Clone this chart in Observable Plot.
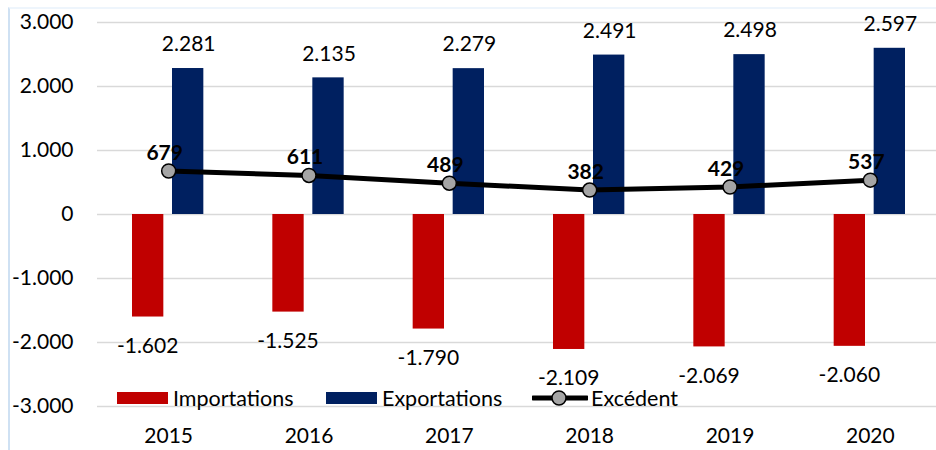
<!DOCTYPE html>
<html>
<head>
<meta charset="utf-8">
<script src="https://cdn.jsdelivr.net/npm/d3@7"></script>
<script src="https://cdn.jsdelivr.net/npm/@observablehq/plot@0.6"></script>
<style>
  html, body { margin: 0; padding: 0; background: #fff; }
  #wrap { position: relative; width: 936px; height: 450px; overflow: hidden; font-family: Lato, sans-serif; }
  #frame { position: absolute; left: 8px; top: 7px; right: 0; bottom: 0; border-left: 2px solid #cfe1f3; border-top: 2px solid #eef5fc; pointer-events: none; }
  #legend { position: absolute; left: 0; top: 385px; width: 936px; height: 26px; font-family: Lato, sans-serif; font-size: 21.5px; color: #000; }
  .item { position: absolute; top: 0; height: 26px; display: flex; align-items: center; }
  .item span { margin-left: 5px; line-height: 26px; }
</style>
</head>
<body>
<div id="wrap"><div id="frame"></div><div id="legend"></div></div>
<script>
const years = ["2015", "2016", "2017", "2018", "2019", "2020"];
const importations = [-1602, -1525, -1790, -2109, -2069, -2060];
const exportations = [2281, 2135, 2279, 2491, 2498, 2597];
const excedent = [679, 611, 489, 382, 429, 537];
const yTicks = [-3000, -2000, -1000, 0, 1000, 2000, 3000];
const seriesNames = ["Importations", "Exportations", "Excédent"];
const seriesColors = ["#C00000", "#002060", "#000000"];

const locale = d3.formatLocale({decimal: ",", thousands: ".", grouping: [3], currency: ["", ""], minus: "-"});
const fmt = locale.format(",");

const data = years.map((year, i) => ({year, imp: importations[i], exp: exportations[i], exc: excedent[i]}));

const chart = Plot.plot({
  width: 936,
  height: 450,
  marginLeft: 97,
  marginRight: 0,
  marginTop: 22,
  marginBottom: 44,
  style: {fontFamily: "Lato, sans-serif", fontSize: "21px", color: "#000", background: "transparent", overflow: "visible"},
  x: {type: "band", domain: years, padding: 0, range: [98, 940], round: false},
  y: {domain: [-3000, 3000]},
  marks: [
    Plot.ruleY(yTicks, {stroke: "#d9d9d9", strokeWidth: 1.5}),
    Plot.barY(data, {x: "year", y: "imp", fill: seriesColors[0], insetLeft: 34, insetRight: 75}),
    Plot.barY(data, {x: "year", y: "exp", fill: seriesColors[1], insetLeft: 74, insetRight: 35}),
    Plot.text(data, {x: "year", y: "exp", text: d => fmt(d.exp), dx: 20, dy: -24, fill: "#000"}),
    Plot.text(data, {x: "year", y: "imp", text: d => fmt(d.imp), dx: -21, dy: 29, fill: "#000"}),
    Plot.line(data, {x: "year", y: "exc", stroke: seriesColors[2], strokeWidth: 5}),
    Plot.dot(data, {x: "year", y: "exc", r: 7, fill: "#a5a5a5", stroke: "#000", strokeWidth: 1.5}),
    Plot.text(data, {x: "year", y: "exc", text: d => fmt(d.exc), dx: -4, dy: -18, fontWeight: "bold", fill: "#000"}),
    Plot.axisY({ticks: yTicks, tickFormat: fmt, tickSize: 0, tickPadding: 24, label: null}),
    Plot.axisX({tickSize: 0, tickPadding: 22, label: null})
  ]
});
document.getElementById("wrap").insertBefore(chart, document.getElementById("frame"));

// legend
const legend = document.getElementById("legend");
const lefts = [117, 326, 532];
seriesNames.forEach((name, i) => {
  const item = document.createElement("div");
  item.className = "item";
  item.style.left = lefts[i] + "px";
  let sym;
  if (i < 2) {
    sym = `<svg width="51" height="26"><rect x="0" y="7" width="51" height="12" fill="${seriesColors[i]}"></rect></svg>`;
  } else {
    sym = `<svg width="56" height="26"><line x1="1" x2="55" y1="13" y2="13" stroke="${seriesColors[i]}" stroke-width="5" stroke-linecap="round"></line><circle cx="27" cy="13" r="7" fill="#a5a5a5" stroke="#000" stroke-width="1.5"></circle></svg>`;
  }
  item.innerHTML = sym + `<span>${name}</span>`;
  if (i === 2) item.querySelector("span").style.marginLeft = "3px";
  legend.appendChild(item);
});
</script>
</body>
</html>
